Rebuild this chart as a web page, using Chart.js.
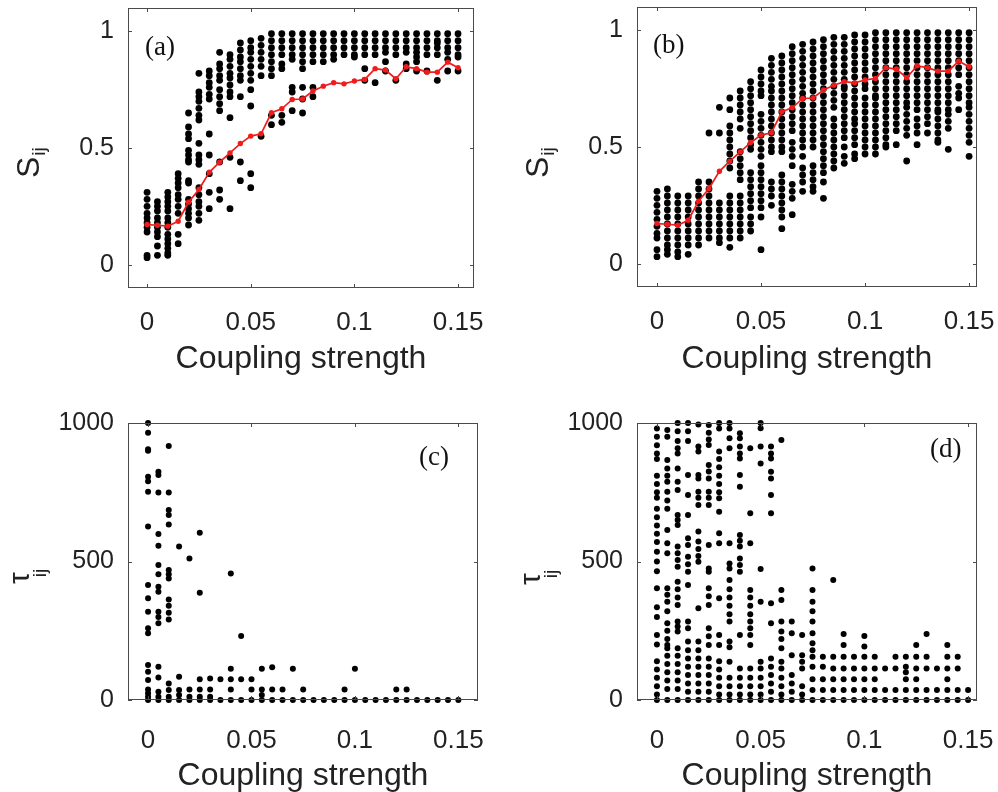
<!DOCTYPE html>
<html>
<head>
<meta charset="utf-8">
<script src="https://cdn.jsdelivr.net/npm/chart.js@4.4.1/dist/chart.umd.min.js"></script>
<style>
  body { margin: 0; background: #fff; }
  #wrap { position: relative; width: 998px; height: 792px; }
  canvas { position: absolute; }
</style>
</head>
<body>
<div id="wrap">
  <canvas id="panelA" width="499" height="396" style="left:0;top:0"></canvas>
  <canvas id="panelB" width="499" height="396" style="left:499px;top:0"></canvas>
  <canvas id="panelC" width="499" height="396" style="left:0;top:396px"></canvas>
  <canvas id="panelD" width="499" height="396" style="left:499px;top:396px"></canvas>
</div>
<script>
// coupling strengths along the x axis (one column of runs per value)
const couplingSteps = [0, 0.005, 0.01, 0.015, 0.02, 0.025, 0.03, 0.035, 0.04, 0.045, 0.05,
  0.055, 0.06, 0.065, 0.07, 0.075, 0.08, 0.085, 0.09, 0.095, 0.1,
  0.105, 0.11, 0.115, 0.12, 0.125, 0.13, 0.135, 0.14, 0.145, 0.15];

const xTickValues = [0, 0.05, 0.1, 0.15];
const syncTicks = [0, 0.5, 1];
const lagTicks = [0, 500, 1000];

// mean synchronization (red curve), same in (a) and (b)
const syncMean = [0.172, 0.169, 0.165, 0.186, 0.268, 0.322, 0.396, 0.439, 0.479, 0.519, 0.551,
  0.561, 0.651, 0.668, 0.708, 0.71, 0.744, 0.765, 0.78, 0.775, 0.787,
  0.794, 0.84, 0.834, 0.797, 0.848, 0.84, 0.825, 0.825, 0.868, 0.844];

// S_ij per pair, network (a)
const syncA = [
  [0.31, 0.28, 0.25, 0.22, 0.2, 0.18, 0.16, 0.14, 0.04, 0.03],
  [0.27, 0.25, 0.23, 0.2, 0.18, 0.16, 0.14, 0.12, 0.08, 0.04],
  [0.31, 0.29, 0.27, 0.25, 0.23, 0.2, 0.18, 0.16, 0.13, 0.11, 0.09, 0.07, 0.05, 0.04],
  [0.39, 0.37, 0.35, 0.33, 0.3, 0.28, 0.25, 0.22, 0.13, 0.09],
  [0.65, 0.59, 0.56, 0.54, 0.49, 0.47, 0.45, 0.44, 0.36, 0.35, 0.28, 0.26, 0.24, 0.22, 0.2, 0.17],
  [0.82, 0.74, 0.72, 0.7, 0.67, 0.64, 0.62, 0.52, 0.47, 0.45, 0.43, 0.33, 0.3, 0.27, 0.25, 0.22, 0.19],
  [0.83, 0.81, 0.78, 0.76, 0.73, 0.71, 0.56, 0.47, 0.39, 0.31, 0.24],
  [0.91, 0.86, 0.84, 0.81, 0.79, 0.75, 0.72, 0.69, 0.66, 0.44, 0.32, 0.28],
  [0.9, 0.88, 0.85, 0.82, 0.8, 0.77, 0.74, 0.72, 0.63, 0.46, 0.24],
  [0.95, 0.92, 0.89, 0.87, 0.84, 0.81, 0.79, 0.72, 0.44, 0.36],
  [0.96, 0.93, 0.91, 0.88, 0.85, 0.82, 0.79, 0.75, 0.68, 0.39, 0.33],
  [0.97, 0.94, 0.91, 0.88, 0.85, 0.81, 0.55],
  [0.99, 0.96, 0.93, 0.9, 0.87, 0.84, 0.81, 0.64, 0.6],
  [0.99, 0.96, 0.93, 0.9, 0.86, 0.84, 0.64, 0.61],
  [0.99, 0.96, 0.93, 0.9, 0.88, 0.76, 0.74, 0.66],
  [0.99, 0.96, 0.93, 0.9, 0.87, 0.84, 0.76, 0.71, 0.65],
  [0.99, 0.96, 0.93, 0.9, 0.87, 0.76, 0.72],
  [0.99, 0.96, 0.93, 0.9, 0.87],
  [0.99, 0.96, 0.93, 0.9, 0.88],
  [0.99, 0.96, 0.93, 0.9],
  [0.99, 0.96, 0.93, 0.9, 0.89],
  [0.99, 0.96, 0.93, 0.9, 0.84, 0.79],
  [0.99, 0.96, 0.93, 0.9, 0.78],
  [0.99, 0.96, 0.93, 0.91, 0.87, 0.83],
  [0.99, 0.96, 0.93, 0.9, 0.79],
  [0.99, 0.96, 0.93, 0.91, 0.86, 0.84],
  [0.99, 0.96, 0.93, 0.91, 0.89, 0.87, 0.83],
  [0.99, 0.96, 0.93, 0.9, 0.83],
  [0.99, 0.96, 0.95, 0.93, 0.9, 0.79],
  [0.99, 0.96, 0.93, 0.91, 0.88, 0.83],
  [0.99, 0.96, 0.93, 0.9, 0.89, 0.83]
];

// S_ij per pair, network (b)
const syncB = [
  [0.31, 0.28, 0.25, 0.22, 0.19, 0.16, 0.13, 0.11, 0.06, 0.03],
  [0.32, 0.29, 0.26, 0.23, 0.2, 0.17, 0.14, 0.11, 0.08, 0.06, 0.04],
  [0.29, 0.26, 0.23, 0.2, 0.17, 0.14, 0.11, 0.08, 0.05, 0.03],
  [0.29, 0.26, 0.23, 0.2, 0.17, 0.14, 0.11, 0.08, 0.04],
  [0.35, 0.32, 0.29, 0.26, 0.23, 0.2, 0.17, 0.14, 0.11, 0.08],
  [0.56, 0.35, 0.32, 0.29, 0.26, 0.23, 0.2, 0.17, 0.14, 0.11],
  [0.67, 0.56, 0.26, 0.23, 0.2, 0.17, 0.14, 0.11, 0.09],
  [0.71, 0.66, 0.59, 0.56, 0.53, 0.5, 0.47, 0.44, 0.41, 0.29, 0.26, 0.23, 0.2, 0.17, 0.14, 0.11, 0.07],
  [0.74, 0.71, 0.68, 0.65, 0.62, 0.58, 0.48, 0.45, 0.42, 0.39, 0.36, 0.29, 0.26, 0.23, 0.2, 0.17, 0.14, 0.11],
  [0.78, 0.75, 0.72, 0.69, 0.66, 0.63, 0.6, 0.57, 0.54, 0.51, 0.49, 0.39, 0.36, 0.33, 0.3, 0.27, 0.24, 0.2, 0.17, 0.14],
  [0.83, 0.8, 0.77, 0.74, 0.72, 0.64, 0.61, 0.58, 0.55, 0.52, 0.49, 0.46, 0.42, 0.39, 0.36, 0.33, 0.3, 0.27, 0.24, 0.2, 0.06],
  [0.88, 0.85, 0.82, 0.79, 0.76, 0.74, 0.71, 0.68, 0.65, 0.62, 0.59, 0.56, 0.53, 0.5, 0.48, 0.35, 0.32, 0.29, 0.25],
  [0.89, 0.86, 0.83, 0.8, 0.77, 0.74, 0.71, 0.68, 0.65, 0.62, 0.59, 0.56, 0.53, 0.5, 0.48, 0.38, 0.35, 0.32, 0.29, 0.26, 0.23, 0.2, 0.15],
  [0.93, 0.9, 0.87, 0.84, 0.81, 0.78, 0.75, 0.72, 0.69, 0.66, 0.63, 0.6, 0.57, 0.52, 0.49, 0.46, 0.42, 0.34, 0.31, 0.28, 0.21],
  [0.94, 0.91, 0.88, 0.85, 0.82, 0.79, 0.76, 0.73, 0.71, 0.68, 0.65, 0.62, 0.59, 0.56, 0.53, 0.5, 0.46, 0.41, 0.38, 0.35, 0.31],
  [0.95, 0.92, 0.89, 0.86, 0.83, 0.8, 0.77, 0.74, 0.71, 0.68, 0.65, 0.62, 0.59, 0.56, 0.53, 0.5, 0.42, 0.39, 0.36, 0.33, 0.31],
  [0.96, 0.93, 0.9, 0.87, 0.84, 0.81, 0.78, 0.75, 0.72, 0.69, 0.66, 0.63, 0.6, 0.57, 0.54, 0.51, 0.48, 0.45, 0.42, 0.39, 0.35, 0.28],
  [0.97, 0.94, 0.91, 0.88, 0.85, 0.82, 0.79, 0.76, 0.73, 0.7, 0.67, 0.62, 0.59, 0.56, 0.53, 0.5, 0.47, 0.44, 0.41],
  [0.97, 0.94, 0.91, 0.88, 0.85, 0.82, 0.79, 0.76, 0.75, 0.72, 0.69, 0.66, 0.63, 0.6, 0.57, 0.54, 0.5, 0.46, 0.43],
  [0.98, 0.95, 0.92, 0.89, 0.86, 0.83, 0.8, 0.77, 0.74, 0.71, 0.68, 0.65, 0.62, 0.6, 0.57, 0.54, 0.51, 0.47, 0.45],
  [0.98, 0.95, 0.92, 0.89, 0.86, 0.83, 0.8, 0.77, 0.75, 0.71, 0.68, 0.65, 0.62, 0.59, 0.56, 0.53, 0.5, 0.47],
  [0.99, 0.96, 0.93, 0.9, 0.87, 0.84, 0.81, 0.78, 0.75, 0.72, 0.71, 0.68, 0.65, 0.62, 0.59, 0.56, 0.53, 0.5, 0.47],
  [0.99, 0.96, 0.93, 0.9, 0.87, 0.84, 0.81, 0.78, 0.75, 0.72, 0.69, 0.66, 0.63, 0.6, 0.57, 0.54, 0.51, 0.5],
  [0.99, 0.96, 0.93, 0.9, 0.87, 0.84, 0.81, 0.78, 0.75, 0.72, 0.69, 0.66, 0.63, 0.6, 0.57, 0.51],
  [0.99, 0.96, 0.93, 0.9, 0.87, 0.84, 0.81, 0.78, 0.75, 0.72, 0.69, 0.67, 0.64, 0.61, 0.58, 0.55, 0.44],
  [0.99, 0.96, 0.93, 0.9, 0.87, 0.84, 0.81, 0.78, 0.75, 0.72, 0.69, 0.66, 0.62, 0.59, 0.56, 0.51],
  [0.99, 0.96, 0.93, 0.9, 0.87, 0.84, 0.81, 0.78, 0.75, 0.72, 0.69, 0.66, 0.63, 0.6, 0.56],
  [0.99, 0.96, 0.93, 0.9, 0.87, 0.84, 0.81, 0.78, 0.75, 0.72, 0.69, 0.66, 0.65, 0.62, 0.59, 0.56, 0.53, 0.52],
  [0.99, 0.96, 0.93, 0.9, 0.87, 0.84, 0.81, 0.78, 0.75, 0.72, 0.69, 0.66, 0.64, 0.61, 0.58, 0.49],
  [0.99, 0.96, 0.93, 0.9, 0.87, 0.84, 0.81, 0.76, 0.73, 0.71, 0.66],
  [0.99, 0.96, 0.93, 0.9, 0.87, 0.84, 0.81, 0.78, 0.75, 0.72, 0.69, 0.67, 0.64, 0.61, 0.58, 0.55, 0.52, 0.46]
];

// lag tau_ij per pair, network (c)
const lagC = [
  [1000, 965, 905, 900, 806, 790, 752, 626, 415, 367, 319, 259, 241, 126, 102, 72, 38, 24, 12, 0],
  [824, 812, 749, 599, 557, 487, 454, 409, 391, 319, 300, 277, 120, 81, 30, 12, 0],
  [917, 749, 686, 668, 634, 469, 454, 439, 363, 340, 315, 291, 60, 36, 12, 0],
  [554, 84, 36, 18, 0],
  [511, 38, 12, 0],
  [604, 387, 75, 38, 12, 0],
  [78, 38, 12, 0],
  [75, 0],
  [457, 113, 75, 38, 0],
  [231, 75, 0],
  [75, 38, 0],
  [113, 38, 18, 0],
  [118, 38, 0],
  [38, 0],
  [113, 0],
  [38, 0],
  [0], [0], [0],
  [38, 0],
  [113, 0],
  [0], [0], [0],
  [38, 0],
  [38, 0],
  [0], [0], [0], [0], [0]
];

// lag tau_ij per pair, network (d)
const lagD = [
  [980, 950, 920, 890, 870, 810, 780, 750, 730, 690, 660, 630, 600, 570, 535, 500, 465, 403, 335, 300, 235, 200, 140, 110, 80, 50, 20, 0],
  [975, 950, 866, 836, 810, 788, 752, 720, 690, 614, 566, 530, 403, 380, 355, 320, 277, 250, 220, 199, 187, 160, 130, 100, 70, 40, 0],
  [1000, 970, 935, 909, 890, 836, 788, 758, 668, 650, 632, 554, 530, 505, 481, 427, 400, 370, 343, 283, 265, 247, 187, 160, 130, 100, 70, 40, 0],
  [1000, 970, 935, 812, 740, 668, 584, 560, 517, 490, 463, 415, 283, 259, 211, 180, 150, 120, 90, 60, 30, 0],
  [995, 915, 897, 812, 800, 752, 730, 704, 608, 572, 545, 520, 499, 331, 211, 180, 150, 120, 90, 60, 30, 0],
  [993, 965, 940, 921, 848, 825, 800, 752, 730, 704, 560, 475, 463, 403, 375, 343, 259, 230, 199, 150, 120, 90, 60, 30, 0],
  [1000, 980, 897, 870, 840, 810, 780, 750, 728, 680, 602, 566, 367, 235, 199, 140, 110, 80, 50, 20, 0],
  [1000, 980, 945, 909, 566, 493, 475, 433, 400, 370, 340, 310, 283, 211, 190, 138, 80, 50, 20, 0],
  [963, 945, 915, 890, 872, 812, 770, 596, 575, 554, 511, 487, 463, 235, 114, 80, 50, 20, 0],
  [909, 674, 566, 397, 370, 340, 310, 283, 259, 235, 199, 114, 80, 50, 20, 0],
  [1000, 981, 915, 854, 473, 355, 138, 114, 80, 50, 20, 0],
  [915, 890, 872, 824, 800, 740, 674, 349, 277, 150, 120, 90, 60, 30, 0],
  [939, 397, 361, 283, 247, 220, 187, 138, 114, 80, 50, 20, 0],
  [283, 241, 162, 90, 60, 30, 0],
  [235, 162, 138, 114, 50, 20, 0],
  [475, 397, 355, 320, 283, 241, 205, 180, 156, 120, 75, 36, 0],
  [156, 120, 75, 36, 0],
  [433, 156, 114, 75, 36, 0],
  [238, 199, 156, 114, 75, 36, 0],
  [156, 114, 75, 36, 0],
  [231, 193, 156, 114, 75, 36, 0],
  [156, 114, 75, 36, 0],
  [114, 36, 0],
  [156, 114, 36, 0],
  [156, 120, 100, 75, 36, 0],
  [199, 156, 114, 75, 36, 0],
  [238, 156, 114, 36, 0],
  [114, 36, 0],
  [199, 156, 114, 75, 36, 0],
  [156, 114, 36, 0],
  [36, 0]
];

const INK = '#222';
const SANS = '"Liberation Sans", Arial, sans-serif';

function columnPoints(columns) {
  const pts = [];
  columns.forEach((col, i) => col.forEach(v => pts.push({ x: couplingSteps[i], y: v })));
  return pts;
}

// box with inward ticks on all four sides, panel letter and the y label with subscript
const framePlugin = {
  id: 'frame',
  afterDatasetsDraw(chart, args, opts) {
    const { ctx, chartArea: a, scales: { x, y } } = chart;
    ctx.save();
    ctx.strokeStyle = '#4a4a4a';
    ctx.lineWidth = 1;
    ctx.strokeRect(a.left + 0.5, a.top + 0.5, a.right - a.left - 1, a.bottom - a.top - 1);
    ctx.beginPath();
    x.ticks.forEach(t => {
      const px = Math.round(x.getPixelForValue(t.value)) + 0.5;
      ctx.moveTo(px, a.bottom); ctx.lineTo(px, a.bottom - 4);
      ctx.moveTo(px, a.top); ctx.lineTo(px, a.top + 4);
    });
    y.ticks.forEach(t => {
      const py = Math.round(y.getPixelForValue(t.value)) + 0.5;
      ctx.moveTo(a.left, py); ctx.lineTo(a.left + 4, py);
      ctx.moveTo(a.right, py); ctx.lineTo(a.right - 4, py);
    });
    ctx.stroke();

    ctx.fillStyle = '#111';
    ctx.font = '27px "Liberation Serif", serif';
    ctx.textBaseline = 'middle';
    ctx.fillText(opts.letter, opts.letterX, opts.letterY);

    ctx.fillStyle = INK;
    ctx.textBaseline = 'alphabetic';
    ctx.translate(opts.symX, opts.symY);
    ctx.rotate(-Math.PI / 2);
    ctx.font = opts.symSize + 'px ' + SANS;
    ctx.fillText(opts.symbol, 0, 0);
    const w = ctx.measureText(opts.symbol).width;
    ctx.font = '19px ' + SANS;
    ctx.fillText('ij', w + opts.subDx, opts.subDy);
    ctx.restore();
  }
};

function buildPanel(p) {
  const W = 499, H = 396;
  const datasets = [];
  if (p.mean) {
    datasets.push({
      type: 'line',
      data: couplingSteps.map((x, i) => ({ x, y: p.mean[i] })),
      borderColor: '#f01c1c',
      borderWidth: 1.7,
      pointRadius: 2.7,
      pointBackgroundColor: '#f01c1c',
      pointBorderWidth: 0,
      tension: 0,
      clip: false
    });
  }
  datasets.push({
    type: 'scatter',
    data: columnPoints(p.columns),
    pointRadius: p.dot,
    pointBackgroundColor: '#000',
    pointBorderWidth: 0,
    clip: false
  });

  new Chart(document.getElementById(p.id), {
    type: 'scatter',
    data: { datasets },
    options: {
      responsive: false,
      animation: false,
      devicePixelRatio: 1,
      events: [],
      layout: { padding: { top: p.area.t, right: W - p.area.r, left: 0, bottom: 0 } },
      plugins: {
        legend: { display: false },
        tooltip: { enabled: false },
        frame: p.frame
      },
      scales: {
        x: {
          type: 'linear',
          min: p.xMin,
          max: p.xMax,
          afterBuildTicks: s => { s.ticks = xTickValues.map(v => ({ value: v })); },
          afterFit: s => {
            s.height = H - p.area.b;
            s.paddingLeft = s.paddingRight = 0;
          },
          grid: { display: false, drawTicks: false },
          border: { display: false },
          ticks: {
            font: { family: SANS, size: 26 },
            color: INK,
            padding: p.tickPad,
            maxRotation: 0,
            callback: v => String(v)
          },
          title: {
            display: true,
            text: 'Coupling strength',
            color: INK,
            font: { family: SANS, size: 32, lineHeight: 1 },
            padding: { top: 0, bottom: p.titlePad }
          }
        },
        y: {
          type: 'linear',
          min: p.yMin,
          max: p.yMax,
          afterBuildTicks: s => { s.ticks = p.yTicks.map(v => ({ value: v })); },
          afterFit: s => {
            s.width = p.area.l;
            s.paddingTop = s.paddingBottom = 0;
          },
          grid: { display: false, drawTicks: false },
          border: { display: false },
          ticks: {
            font: { family: SANS, size: 25 },
            color: INK,
            padding: 14,
            callback: v => String(v)
          }
        }
      }
    },
    plugins: [framePlugin]
  });
}

buildPanel({
  id: 'panelA', columns: syncA, mean: syncMean, dot: 3.4,
  area: { l: 128, r: 474, t: 8, b: 288 },
  xMin: -0.0092, xMax: 0.1577, yMin: -0.1, yMax: 1.1, yTicks: syncTicks, tickPad: 19, titlePad: 21,
  frame: { letter: '(a)', letterX: 145, letterY: 48, symbol: 'S', symSize: 32, symX: 39, symY: 178, subDx: 1, subDy: 6 }
});
buildPanel({
  id: 'panelB', columns: syncB, mean: syncMean, dot: 3.4,
  area: { l: 138, r: 478, t: 7, b: 287 },
  xMin: -0.0096, xMax: 0.1538, yMin: -0.1, yMax: 1.1, yTicks: syncTicks, tickPad: 19, titlePad: 21,
  frame: { letter: '(b)', letterX: 154, letterY: 46, symbol: 'S', symSize: 32, symX: 49, symY: 178, subDx: 1, subDy: 6 }
});
buildPanel({
  id: 'panelC', columns: lagC, dot: 3,
  area: { l: 128, r: 478, t: 27, b: 304 },
  xMin: -0.0097, xMax: 0.1595, yMin: 0, yMax: 1000, yTicks: lagTicks, tickPad: 25, titlePad: 0,
  frame: { letter: '(c)', letterX: 419, letterY: 62, symbol: 'τ', symSize: 30, symX: 29, symY: 188, subDx: -5, subDy: 17 }
});
buildPanel({
  id: 'panelD', columns: lagD, dot: 3,
  area: { l: 138, r: 478, t: 27, b: 304 },
  xMin: -0.0096, xMax: 0.1543, yMin: 0, yMax: 1000, yTicks: lagTicks, tickPad: 25, titlePad: 0,
  frame: { letter: '(d)', letterX: 431, letterY: 54, symbol: 'τ', symSize: 30, symX: 41, symY: 189, subDx: -5, subDy: 17 }
});
</script>
</body>
</html>
